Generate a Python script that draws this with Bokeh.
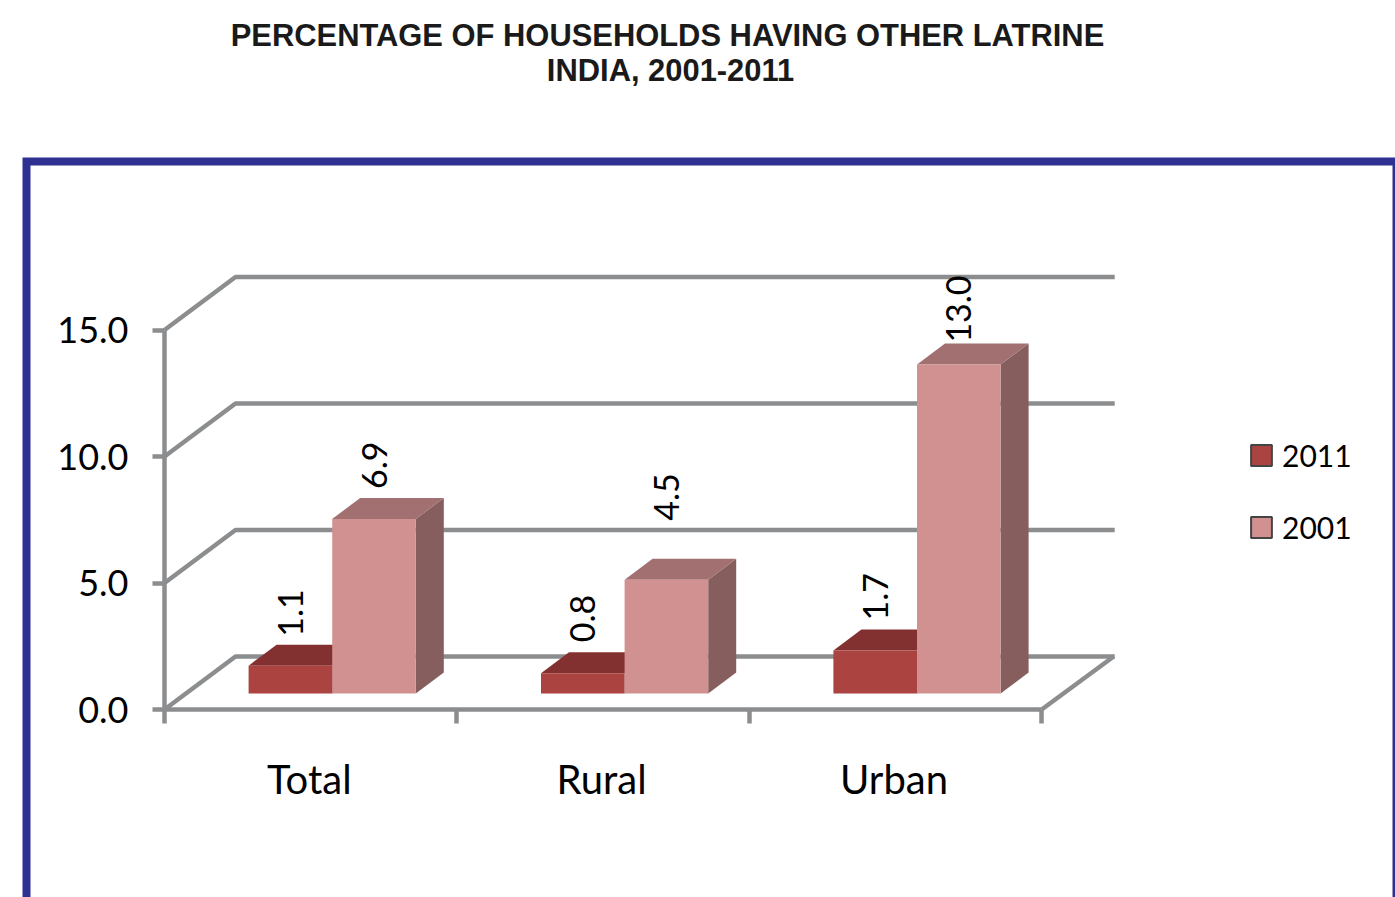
from math import pi
from bokeh.core.properties import value
from bokeh.embed import file_html
from bokeh.models import (ColumnDataSource, FixedTicker, Legend, LegendItem, LinearAxis, Range1d)
from bokeh.plotting import figure
from bokeh.resources import INLINE

TITLE_LINES = ["PERCENTAGE OF HOUSEHOLDS HAVING OTHER LATRINE", "INDIA, 2001-2011"]
CATEGORIES = ["Total", "Rural", "Urban"]
VALUES_2011 = [1.1, 0.8, 1.7]
VALUES_2001 = [6.9, 4.5, 13.0]
Y_TICKS = [0, 5, 10, 15]
Y_TICK_LABELS = ["0.0", "5.0", "10.0", "15.0"]
SERIES_NAMES = ["2011", "2001"]

# page geometry (screen pixels) of the plot's scales
PAGE_W, PAGE_H, MARGIN = 1395, 897, 0
X0_PX, PX_PER_CAT = 164.0, 292.4
Y0_PX, PX_PER_UNIT = 709.0, 25.3


def dx(px):
    return px / PX_PER_CAT


def dy(px):
    return px / PX_PER_UNIT


def sx(px):
    return (px - X0_PX) / PX_PER_CAT


def sy(px):
    return (Y0_PX - px) / PX_PER_UNIT


FONT = "Lato"
GREY = "#8b8d8f"
LINE_W = 4.5
WALL_X, WALL_Y = dx(71), dy(53)
BAR_W = dx(83.6)
OFF_X, OFF_Y = dx(21.5), dy(16)
DEPTH_X, DEPTH_Y = dx(28), dy(21)

p = figure(
    width=PAGE_W - MARGIN, height=PAGE_H - MARGIN, output_backend="svg", toolbar_location=None,
    x_range=Range1d(sx(MARGIN), sx(PAGE_W)), y_range=Range1d(sy(PAGE_H), sy(MARGIN)),
    x_axis_type=None, y_axis_type=None, min_border=0, outline_line_color=None,
    background_fill_color="white", border_fill_color="white",
)
p.grid.visible = False

# blue frame (runs off the page on the right and at the bottom)
p.quad(left=[sx(26)], right=[sx(1396)], top=[sy(161)], bottom=[sy(930)], fill_color=None,
       line_color="#2e3192", line_width=8, line_join="miter")

# title
p.text(x=[sx(667), sx(670)], y=[sy(34.5), sy(69.5)], text=TITLE_LINES, text_align="center", text_baseline="middle",
       text_font=value("Liberation Sans"), text_font_style="bold", text_font_size="30.9px", text_color="#1a1a1a")

# back walls and floor
wall_xs = [[0, WALL_X, 3 + WALL_X + dx(2)] for t in Y_TICKS]
wall_ys = [[t, t + WALL_Y, t + WALL_Y] for t in Y_TICKS]
p.multi_line(wall_xs, wall_ys, line_color=GREY, line_width=LINE_W)
p.line([3 + WALL_X + dx(1), 3], [WALL_Y, 0], line_color=GREY, line_width=LINE_W)


def box_faces(i, v, slot):
    x0 = i + 0.5 + OFF_X - BAR_W + slot * BAR_W
    x1 = x0 + BAR_W
    y0, y1 = OFF_Y, OFF_Y + v
    front = (x0, x1, y0, y1)
    top = ([x0, x1, x1 + DEPTH_X, x0 + DEPTH_X], [y1, y1, y1 + DEPTH_Y, y1 + DEPTH_Y])
    side = ([x1, x1 + DEPTH_X, x1 + DEPTH_X, x1], [y0, y0 + DEPTH_Y, y1 + DEPTH_Y, y1])
    return front, top, side


def draw_series(values, slot, front_c, top_c, side_c):
    faces = [box_faces(i, v, slot) for i, v in enumerate(values)]
    p.patches([f[2][0] for f in faces], [f[2][1] for f in faces], fill_color=side_c, line_color=None)
    p.patches([f[1][0] for f in faces], [f[1][1] for f in faces], fill_color=top_c, line_color=None)
    p.quad(left=[f[0][0] for f in faces], right=[f[0][1] for f in faces],
           bottom=[f[0][2] for f in faces], top=[f[0][3] for f in faces], fill_color=front_c, line_color=None)


draw_series(VALUES_2011, 0, "#ab4340", "#833130", "#7a3a38")
draw_series(VALUES_2001, 1, "#d29191", "#a27070", "#865e5d")

# value labels, rotated as in the reference
label_lift = {(0, 0): 29, (0, 1): 31, (0, 2): 30, (1, 0): 30, (1, 1): 59, (1, 2): 22}
for slot, vals in enumerate([VALUES_2011, VALUES_2001]):
    src = ColumnDataSource(dict(
        x=[i + 0.5 + OFF_X - BAR_W / 2 + slot * BAR_W for i in range(len(vals))],
        y=[OFF_Y + v + dy(label_lift[(slot, i)]) for i, v in enumerate(vals)],
        t=[f"{v:.1f}" for v in vals],
    ))
    p.text("x", "y", text="t", source=src, angle=pi / 2, text_align="left", text_baseline="middle",
           x_offset=0, text_font=value(FONT), text_font_size="34px", text_color="black")

# axes sitting inside the frame
yaxis = LinearAxis(fixed_location=0, bounds=(0, 15), ticker=FixedTicker(ticks=Y_TICKS),
                   major_label_overrides=dict(zip(Y_TICKS, Y_TICK_LABELS)))
yaxis.axis_line_color = GREY
yaxis.axis_line_width = LINE_W
yaxis.major_tick_line_color = GREY
yaxis.major_tick_line_width = LINE_W
yaxis.major_tick_out = 12
yaxis.major_tick_in = 0
yaxis.minor_tick_line_color = None
yaxis.major_label_standoff = 24
yaxis.major_label_text_font = FONT
yaxis.major_label_text_font_size = "36px"
yaxis.major_label_text_color = "black"
p.add_layout(yaxis, "left")

cat_centres = [i + 0.495 for i in range(len(CATEGORIES))]
xaxis = LinearAxis(fixed_location=0, bounds=(0, 3),
                   ticker=FixedTicker(ticks=cat_centres, minor_ticks=[0, 1, 2, 3]),
                   major_label_overrides=dict(zip(cat_centres, CATEGORIES)))
xaxis.axis_line_color = GREY
xaxis.axis_line_width = LINE_W
xaxis.major_tick_line_color = None
xaxis.major_tick_out = 0
xaxis.major_tick_in = 0
xaxis.minor_tick_line_color = GREY
xaxis.minor_tick_line_width = LINE_W
xaxis.minor_tick_out = 14
xaxis.minor_tick_in = 0
xaxis.major_label_standoff = 31
xaxis.major_label_text_font = FONT
xaxis.major_label_text_font_size = "40px"
xaxis.major_label_text_color = "black"
p.add_layout(xaxis, "below")

# legend: swatches with a dark outline
nan = float("nan")
r1 = p.quad(left=[nan], right=[nan], top=[nan], bottom=[nan], fill_color="#ab4340", line_color="#444444", line_width=2)
r2 = p.quad(left=[nan], right=[nan], top=[nan], bottom=[nan], fill_color="#d29191", line_color="#444444", line_width=2)
legend = Legend(items=[LegendItem(label=value(SERIES_NAMES[0]), renderers=[r1]),
                       LegendItem(label=value(SERIES_NAMES[1]), renderers=[r2])],
                location=(1248 - MARGIN, PAGE_H - 545), orientation="vertical",
                glyph_width=26, glyph_height=26, label_standoff=8, spacing=36, padding=0, margin=0,
                border_line_color=None, background_fill_alpha=0,
                label_text_font=FONT, label_text_font_size="30px", label_text_color="black")
p.add_layout(legend)

open("out.html", "w").write(file_html(p, INLINE))
